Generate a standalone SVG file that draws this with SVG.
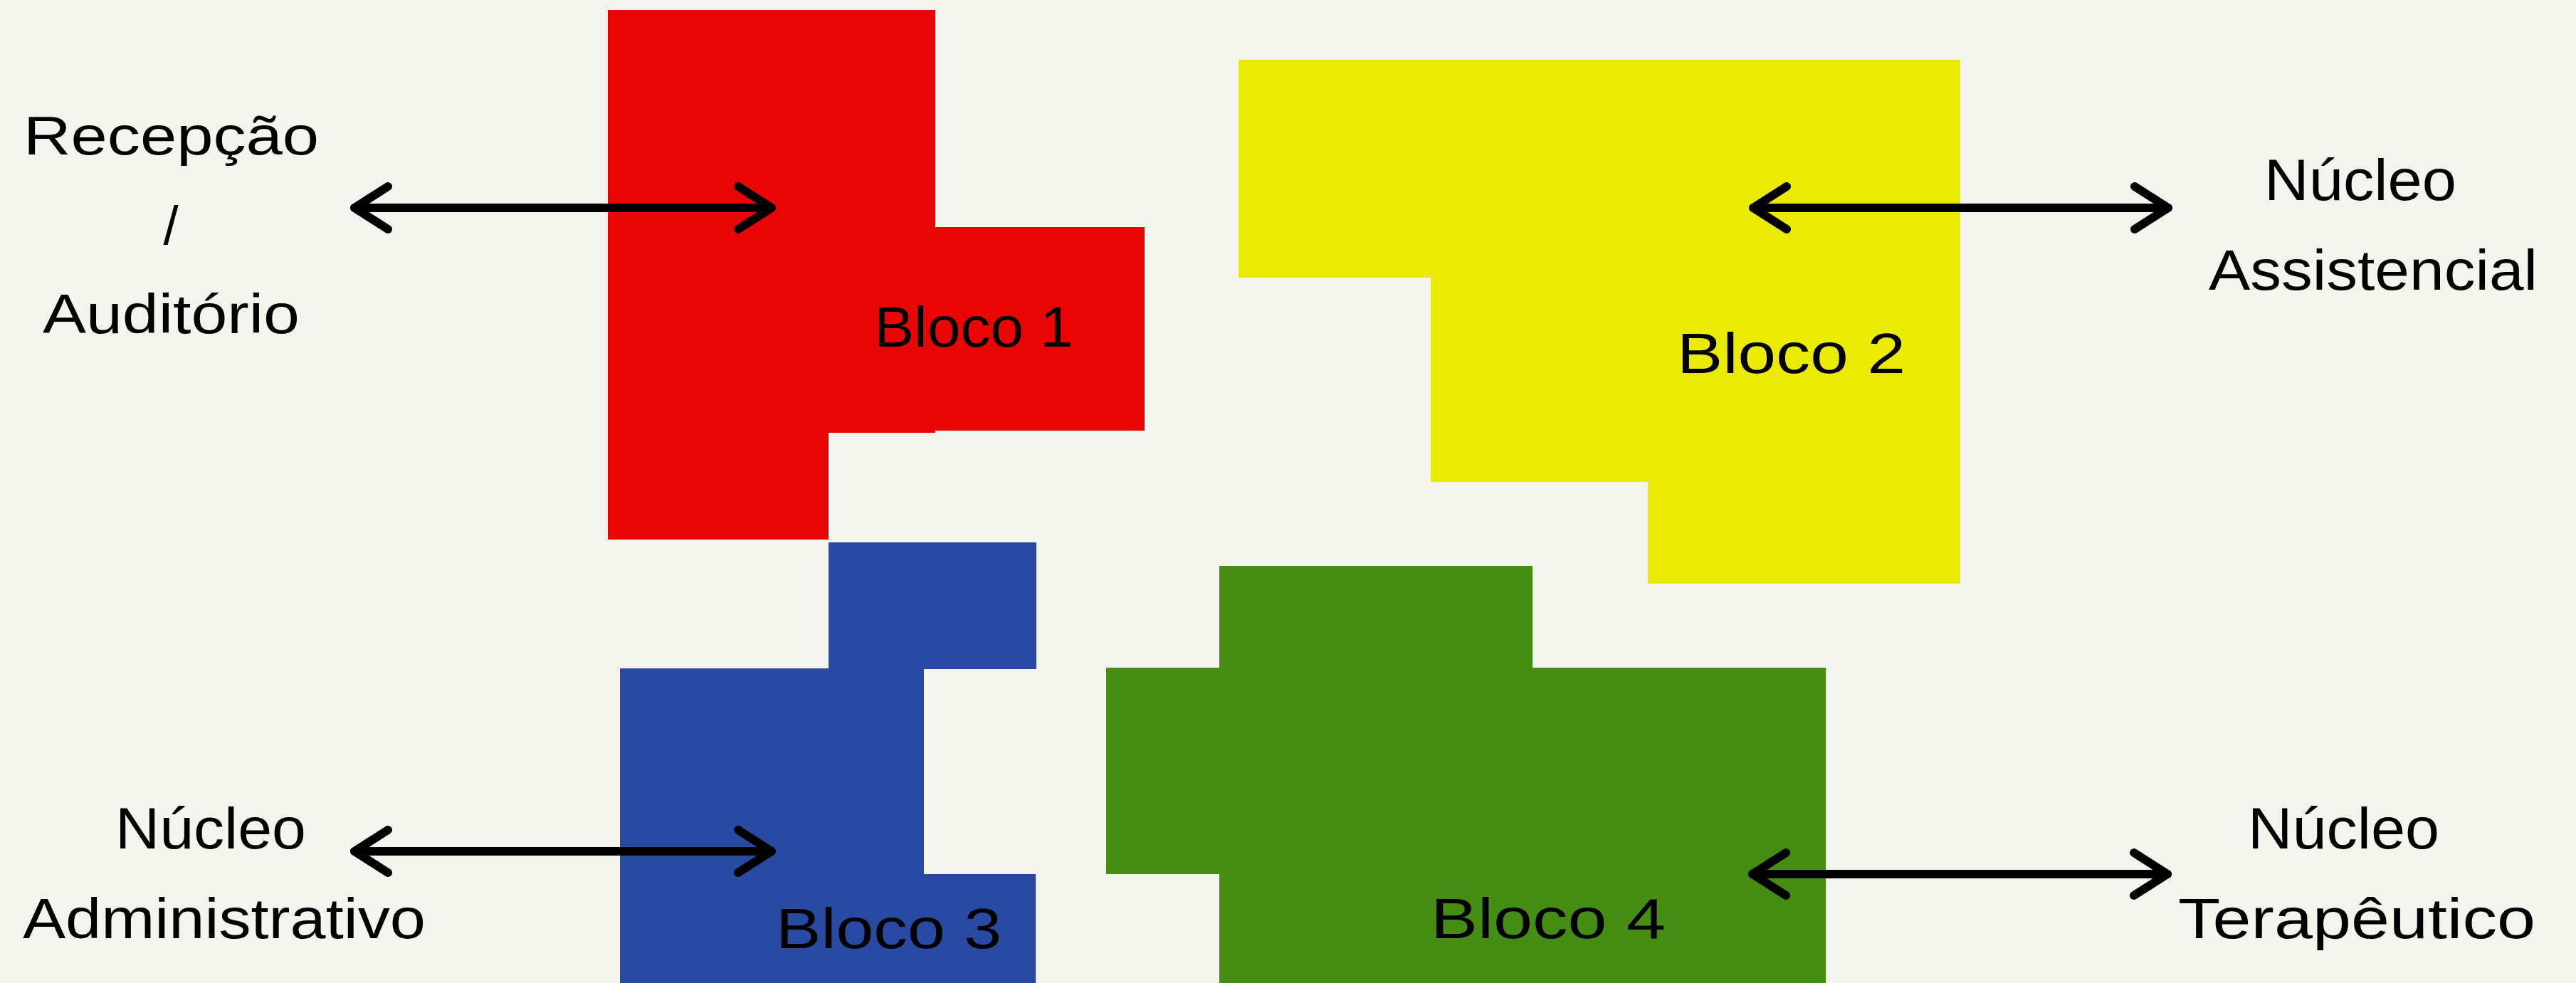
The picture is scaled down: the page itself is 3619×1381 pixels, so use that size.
<svg xmlns="http://www.w3.org/2000/svg" width="3619" height="1381" viewBox="0 0 3619 1381">
  <style>
    .lbl { font-family: "Liberation Sans Narrow", "Liberation Sans", "DejaVu Sans", sans-serif; fill: #000; }
    .conn { stroke: #000; stroke-width: 12; fill: none; stroke-linecap: round; stroke-linejoin: round; }
    .head { stroke: #000; stroke-width: 12; fill: none; stroke-linecap: round; stroke-linejoin: round; }
  </style>
  <defs>
    <marker id="chev" markerUnits="userSpaceOnUse" viewBox="-60 -42 72 84" refX="0" refY="0" markerWidth="72" markerHeight="84" orient="auto-start-reverse" overflow="visible">
      <path class="head" d="M -47 -30 L 0 0 L -47 30"/>
    </marker>
  </defs>
  <rect x="0" y="0" width="3619" height="1381" fill="#F4F4EF"/>

  <g id="bloco1">
    <polygon fill="#EA0404" points="854,14 1314,14 1314,319 1608,319 1608,605 1314,605 1314,608 1164,608 1164,758 854,758"/>
    <text class="lbl" x="1228" y="487" font-size="80" textLength="280" lengthAdjust="spacingAndGlyphs">Bloco 1</text>
  </g>

  <g id="bloco2">
    <polygon fill="#EAEA02" points="1740,84 2754,84 2754,820 2315,820 2315,677 2010,677 2010,390 1740,390"/>
    <text class="lbl" x="2356" y="524" font-size="80" textLength="321" lengthAdjust="spacingAndGlyphs">Bloco 2</text>
  </g>

  <g id="bloco3">
    <polygon fill="#284AA2" points="1164,762 1456,762 1456,940 1298,940 1298,1228 1455,1228 1455,1381 871,1381 871,939 1164,939"/>
    <text class="lbl" x="1090" y="1332" font-size="80" textLength="317" lengthAdjust="spacingAndGlyphs">Bloco 3</text>
  </g>

  <g id="bloco4">
    <polygon fill="#468D14" points="1713,795 2153,795 2153,938 2565,938 2565,1381 1713,1381 1713,1228 1554,1228 1554,938 1713,938"/>
    <text class="lbl" x="2010" y="1318" font-size="80" textLength="330" lengthAdjust="spacingAndGlyphs">Bloco 4</text>
  </g>

  <g id="recepcao">
    <text class="lbl" x="33" y="217" font-size="76" textLength="415" lengthAdjust="spacingAndGlyphs">Recepção</text>
    <text class="lbl" x="240" y="343" font-size="76" text-anchor="middle">/</text>
    <text class="lbl" x="60" y="468" font-size="78" textLength="361" lengthAdjust="spacingAndGlyphs">Auditório</text>
  </g>

  <g id="nucleo-assistencial">
    <text class="lbl" x="3181" y="281" font-size="82" textLength="270" lengthAdjust="spacingAndGlyphs">Núcleo</text>
    <text class="lbl" x="3103" y="407" font-size="80" textLength="462" lengthAdjust="spacingAndGlyphs">Assistencial</text>
  </g>

  <g id="nucleo-administrativo">
    <text class="lbl" x="162" y="1192" font-size="82" textLength="268" lengthAdjust="spacingAndGlyphs">Núcleo</text>
    <text class="lbl" x="32" y="1318" font-size="80" textLength="566" lengthAdjust="spacingAndGlyphs">Administrativo</text>
  </g>

  <g id="nucleo-terapeutico">
    <text class="lbl" x="3158" y="1192" font-size="82" textLength="269" lengthAdjust="spacingAndGlyphs">Núcleo</text>
    <text class="lbl" x="3060" y="1318" font-size="80" textLength="502" lengthAdjust="spacingAndGlyphs">Terapêutico</text>
  </g>

  <g id="connectors">
    <path class="conn" d="M 498 292 L 1084 292" marker-start="url(#chev)" marker-end="url(#chev)"/>
    <path class="conn" d="M 2463 292 L 3046 292" marker-start="url(#chev)" marker-end="url(#chev)"/>
    <path class="conn" d="M 498 1196 L 1084 1196" marker-start="url(#chev)" marker-end="url(#chev)"/>
    <path class="conn" d="M 2462 1228 L 3045 1228" marker-start="url(#chev)" marker-end="url(#chev)"/>
  </g>
</svg>
